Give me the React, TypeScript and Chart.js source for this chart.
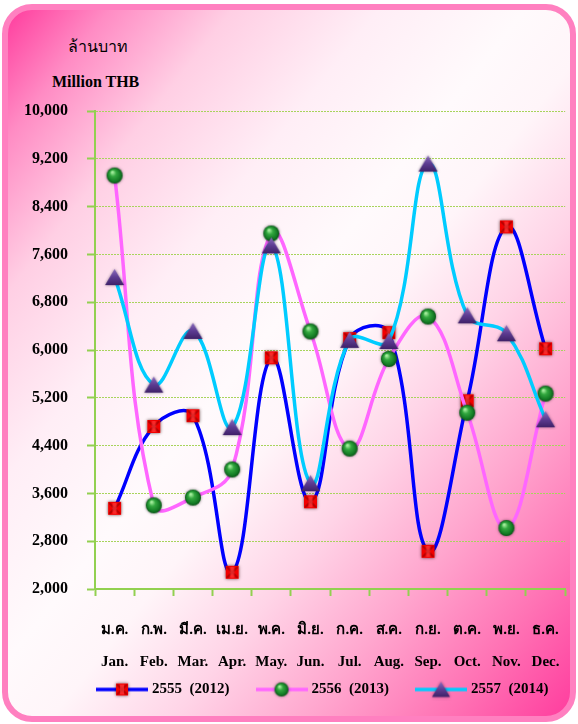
import React, { useEffect, useRef } from 'react';
import { Chart, registerables } from 'chart.js';

Chart.register(...registerables);

const monthsThai = ['ม.ค.', 'ก.พ.', 'มี.ค.', 'เม.ย.', 'พ.ค.', 'มิ.ย.', 'ก.ค.', 'ส.ค.', 'ก.ย.', 'ต.ค.', 'พ.ย.', 'ธ.ค.'];
const monthsEng = ['Jan.', 'Feb.', 'Mar.', 'Apr.', 'May.', 'Jun.', 'Jul.', 'Aug.', 'Sep.', 'Oct.', 'Nov.', 'Dec.'];

const series2555 = [3350, 4720, 4900, 2280, 5870, 3460, 6190, 6290, 2630, 5150, 8060, 6020];
const series2556 = [8920, 3400, 3530, 4000, 7950, 6310, 4350, 5850, 6560, 4950, 3020, 5270];
const series2557 = [7220, 5420, 6320, 4710, 7750, 3770, 6170, 6150, 9120, 6580, 6280, 4840];

const seriesNames = ['2555  (2012)', '2556  (2013)', '2557  (2014)'];
const seriesColors = ['#0000ff', '#ff66ff', '#00ccff'];

const yMin = 2000;
const yMax = 10000;
const yStep = 800;

const titleThai = 'ล้านบาท';
const titleEng = 'Million THB';

const FONT = '"Liberation Serif", "Times New Roman", serif';

function makeSquare(size: number): HTMLCanvasElement {
  const pad = 4;
  const c = document.createElement('canvas');
  c.width = c.height = size + pad * 2;
  const g = c.getContext('2d')!;
  g.shadowColor = 'rgba(40,0,0,0.7)';
  g.shadowBlur = 3;
  g.fillStyle = '#f20000';
  g.fillRect(pad, pad, size, size);
  g.shadowBlur = 0;
  g.strokeStyle = '#b80000';
  g.lineWidth = 2;
  g.beginPath();
  g.moveTo(pad + 1, pad + 1);
  g.lineTo(pad + size - 1, pad + size - 1);
  g.moveTo(pad + size - 1, pad + 1);
  g.lineTo(pad + 1, pad + size - 1);
  g.stroke();
  g.fillStyle = 'rgba(255,80,80,0.5)';
  g.fillRect(pad + size / 2 - 2, pad + 1, 4, size - 2);
  return c;
}

function makeSphere(d: number): HTMLCanvasElement {
  const pad = 3;
  const c = document.createElement('canvas');
  c.width = c.height = d + pad * 2;
  const g = c.getContext('2d')!;
  const cx = c.width / 2;
  g.shadowColor = 'rgba(0,0,0,0.5)';
  g.shadowBlur = 3;
  const grad = g.createRadialGradient(cx - d * 0.15, cx - d * 0.22, d * 0.04, cx, cx, d / 2);
  grad.addColorStop(0, '#a8f0a0');
  grad.addColorStop(0.35, '#33a83f');
  grad.addColorStop(0.8, '#137a24');
  grad.addColorStop(1, '#0a5416');
  g.fillStyle = grad;
  g.beginPath();
  g.arc(cx, cx, d / 2, 0, Math.PI * 2);
  g.fill();
  return c;
}

function makeTriangle(w: number, h: number): HTMLCanvasElement {
  const pad = 3;
  const c = document.createElement('canvas');
  c.width = w + pad * 2;
  c.height = h + pad * 2;
  const g = c.getContext('2d')!;
  g.shadowColor = 'rgba(20,0,40,0.5)';
  g.shadowBlur = 3;
  const grad = g.createLinearGradient(0, pad, 0, pad + h);
  grad.addColorStop(0, '#8a6bbd');
  grad.addColorStop(0.5, '#5d3c92');
  grad.addColorStop(1, '#3f2168');
  g.fillStyle = grad;
  g.beginPath();
  g.moveTo(pad + w / 2, pad);
  g.lineTo(pad + w, pad + h);
  g.lineTo(pad, pad + h);
  g.closePath();
  g.fill();
  return c;
}

function makeLegendImage(color: string, marker: HTMLCanvasElement): HTMLCanvasElement {
  const c = document.createElement('canvas');
  c.width = 52;
  c.height = 22;
  const g = c.getContext('2d')!;
  g.strokeStyle = color;
  g.lineWidth = 3.5;
  g.beginPath();
  g.moveTo(0, 11);
  g.lineTo(52, 11);
  g.stroke();
  g.drawImage(marker, 26 - marker.width / 2, 11 - marker.height / 2);
  return c;
}

export default function App() {
  const canvasRef = useRef<HTMLCanvasElement | null>(null);

  useEffect(() => {
    const canvas = canvasRef.current;
    if (!canvas) return;
    const markers = [makeSquare(13), makeSphere(16), makeTriangle(19, 16)];
    const legendMarkers = [makeSquare(12), makeSphere(14), makeTriangle(18, 15)];
    const legendImgs = seriesColors.map((col, i) => makeLegendImage(col, legendMarkers[i]));
    const seriesData = [series2555, series2556, series2557];

    const chart = new Chart(canvas, {
      type: 'line',
      data: {
        labels: monthsThai.map((t, i) => [t, monthsEng[i]]),
        datasets: seriesData.map((d, i) => ({
          label: seriesNames[i],
          data: d,
          borderColor: seriesColors[i],
          backgroundColor: seriesColors[i],
          borderWidth: 3.5,
          pointStyle: markers[i] as any,
          pointRadius: 8,
          pointHoverRadius: 8,
          tension: 0.4,
          fill: false,
          order: 3 - i,
        })),
      },
      options: {
        animation: false,
        responsive: false,
        maintainAspectRatio: false,
        layout: { padding: { left: 0, right: 0, top: 111, bottom: 17 } },
        scales: {
          x: {
            offset: true,
            grid: {
              offset: true,
              drawOnChartArea: false,
              tickLength: 7,
              tickColor: '#92d050',
              tickWidth: 2,
            },
            border: { color: '#92d050', width: 2 },
            ticks: {
              color: '#000',
              font: { family: FONT, size: 15, weight: 'bold', lineHeight: '32px' } as any,
              padding: 18,
              maxRotation: 0,
              autoSkip: false,
            },
            afterFit: (s: any) => {
              s.height = 63.5;
              // let the second (English) label row run below the axis box
              s._computeLabelArea = () => undefined;
            },
          },
          y: {
            min: yMin,
            max: yMax,
            ticks: {
              stepSize: yStep,
              color: '#000',
              padding: 19,
              font: { family: FONT, size: 16, weight: 'bold' },
              callback: (v: any) => Number(v).toLocaleString('en-US'),
            },
            grid: {
              color: '#a8d45c',
              lineWidth: 1,
              tickLength: 8,
              tickColor: '#92d050',
              tickWidth: 2,
            },
            border: { color: '#92d050', width: 2, dash: [2, 1] },
            afterFit: (s: any) => {
              s.width = 95;
            },
          },
          yRight: {
            type: 'linear',
            position: 'right',
            display: true,
            grid: { display: false },
            border: { display: false },
            ticks: { display: false },
            afterFit: (s: any) => {
              s.width = 9;
            },
          },
        },
        plugins: {
          tooltip: { enabled: false },
          legend: {
            position: 'bottom',
            align: 'end',
            labels: {
              usePointStyle: true,
              pointStyleWidth: 45,
              padding: 29.5,
              color: '#000',
              font: { family: FONT, size: 15, weight: 'bold' },
              generateLabels: (ch: any) =>
                ch.data.datasets.map((ds: any, i: number) => ({
                  text: ds.label,
                  pointStyle: legendImgs[i],
                  fillStyle: 'rgba(0,0,0,0)',
                  strokeStyle: 'rgba(0,0,0,0)',
                  lineWidth: 0,
                  hidden: false,
                  datasetIndex: i,
                })),
            },
          },
        },
      } as any,
    });
    return () => chart.destroy();
  }, []);

  return (
    <div style={{ position: 'absolute', left: 0, top: 0, width: 578, height: 724, overflow: 'hidden' }}>
      <div
        style={{
          position: 'absolute',
          left: 2,
          top: 4,
          width: 574,
          height: 718,
          boxSizing: 'border-box',
          border: '6px solid #ff80c0',
          borderRadius: 30,
          background:
            'linear-gradient(to bottom right, #ff3d9e 0%, #ff8cc4 9%, #ffcfe4 20%, #ffeef6 33%, #fffafc 46%, #fff5f9 54%, #ffd4e7 65%, #ffa6ce 77%, #ff72b4 89%, #ff3d9e 100%)',
        }}
      />
      <div
        style={{
          position: 'absolute',
          left: 68,
          top: 35,
          fontFamily: FONT,
          fontSize: 16,
          lineHeight: '24px',
          color: '#000',
        }}
      >
        {titleThai}
      </div>
      <div
        style={{
          position: 'absolute',
          left: 52,
          top: 72,
          fontFamily: FONT,
          fontSize: 16,
          fontWeight: 'bold',
          lineHeight: '20px',
          color: '#000',
        }}
      >
        {titleEng}
      </div>
      <canvas ref={canvasRef} width={578} height={724} style={{ position: 'absolute', left: 0, top: 0 }} />
    </div>
  );
}
